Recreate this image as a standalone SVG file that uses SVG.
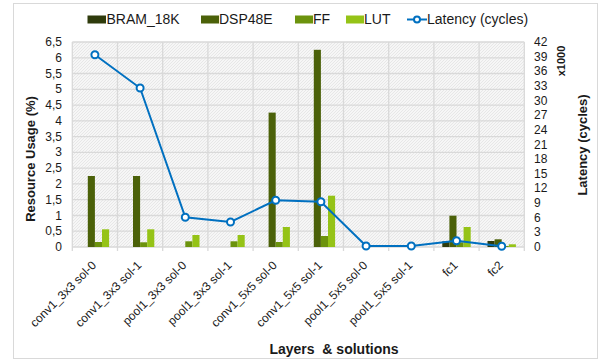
<svg xmlns="http://www.w3.org/2000/svg" width="602" height="364" viewBox="0 0 602 364">
<style>
text{font-family:"Liberation Sans",Arial,sans-serif;fill:#1a1a1a}
.leg{font-size:14px}
.ax{font-size:12px}
.axl{font-size:12px;text-anchor:end}
.cat{font-size:12px;text-anchor:end}
.ttl{font-size:13px;font-weight:bold;text-anchor:middle}
.grid{stroke:#d9d9d9;stroke-width:1.3;fill:none}
.bram{fill:#2f3b0c}
.dsp{fill:#4b6109}
.ff{fill:#6c930d}
.lut{fill:#95c317}
.lat{stroke:#0070c0;stroke-width:2;fill:none}
.mk{stroke:#0070c0;stroke-width:2;fill:#fff}
</style>
<defs>
<pattern id="hatch" width="3" height="3" patternUnits="userSpaceOnUse">
<rect width="3" height="3" fill="#f6f6f6"/>
<path d="M0,3 L3,0 M-1,1 L1,-1 M2,4 L4,2" stroke="#e1e1e1" stroke-width="0.7"/>
</pattern>
</defs>
<rect x="13.5" y="3.5" width="584" height="355" fill="#fff" stroke="#d9d9d9"/>
<g id="plot-area">
<rect x="72.3" y="42" width="452" height="205" fill="url(#hatch)"/>
</g>
<g id="gridlines">
<path class="grid" d="M72.3,247H524.3M72.3,231.2H524.3M72.3,215.5H524.3M72.3,199.7H524.3M72.3,183.9H524.3M72.3,168.2H524.3M72.3,152.4H524.3M72.3,136.6H524.3M72.3,120.8H524.3M72.3,105.1H524.3M72.3,89.3H524.3M72.3,73.5H524.3M72.3,57.8H524.3M72.3,42H524.3"/>
<path class="grid" d="M72.3,42V251M117.5,42V251M162.7,42V251M207.9,42V251M253.1,42V251M298.3,42V251M343.5,42V251M388.7,42V251M433.9,42V251M479.1,42V251M524.3,42V251"/>
</g>
<g id="bars">
<rect class="dsp" x="87.8" y="176" width="7.1" height="71"/>
<rect class="ff" x="94.9" y="242" width="7.1" height="5"/>
<rect class="lut" x="102" y="229.3" width="7.1" height="17.7"/>
<rect class="dsp" x="133" y="176" width="7.1" height="71"/>
<rect class="ff" x="140.1" y="242.3" width="7.1" height="4.7"/>
<rect class="lut" x="147.2" y="229.3" width="7.1" height="17.7"/>
<rect class="ff" x="185.3" y="241.3" width="7.1" height="5.7"/>
<rect class="lut" x="192.4" y="235" width="7.1" height="12"/>
<rect class="ff" x="230.5" y="241.3" width="7.1" height="5.7"/>
<rect class="lut" x="237.6" y="235" width="7.1" height="12"/>
<rect class="dsp" x="268.6" y="112.6" width="7.1" height="134.4"/>
<rect class="ff" x="275.7" y="242" width="7.1" height="5"/>
<rect class="lut" x="282.8" y="227" width="7.1" height="20"/>
<rect class="dsp" x="313.8" y="49.8" width="7.1" height="197.2"/>
<rect class="ff" x="320.9" y="236" width="7.1" height="11"/>
<rect class="lut" x="328" y="195.7" width="7.1" height="51.3"/>
<rect class="bram" x="442.3" y="241.3" width="7.1" height="5.7"/>
<rect class="dsp" x="449.4" y="215.7" width="7.1" height="31.3"/>
<rect class="ff" x="456.5" y="242.3" width="7.1" height="4.7"/>
<rect class="lut" x="463.6" y="227" width="7.1" height="20"/>
<rect class="bram" x="487.5" y="241" width="7.1" height="6"/>
<rect class="dsp" x="494.6" y="239.3" width="7.1" height="7.7"/>
<rect class="ff" x="501.7" y="246" width="7.1" height="1"/>
<rect class="lut" x="508.8" y="244.3" width="7.1" height="2.7"/>
</g>
<g id="latency">
<polyline class="lat" points="94.9,54.7 140.1,88 185.3,217.3 230.5,222 275.7,200.3 320.9,201.7 366.1,246 411.3,246 456.5,240.7 501.7,246.3"/>
<circle class="mk" cx="94.9" cy="54.7" r="3.5"/>
<circle class="mk" cx="140.1" cy="88" r="3.5"/>
<circle class="mk" cx="185.3" cy="217.3" r="3.5"/>
<circle class="mk" cx="230.5" cy="222" r="3.5"/>
<circle class="mk" cx="275.7" cy="200.3" r="3.5"/>
<circle class="mk" cx="320.9" cy="201.7" r="3.5"/>
<circle class="mk" cx="366.1" cy="246" r="3.5"/>
<circle class="mk" cx="411.3" cy="246" r="3.5"/>
<circle class="mk" cx="456.5" cy="240.7" r="3.5"/>
<circle class="mk" cx="501.7" cy="246.3" r="3.5"/>
</g>
<g id="left-axis">
<text class="axl" x="62" y="251">0</text>
<text class="axl" x="62" y="235.2">0,5</text>
<text class="axl" x="62" y="219.5">1</text>
<text class="axl" x="62" y="203.7">1,5</text>
<text class="axl" x="62" y="187.9">2</text>
<text class="axl" x="62" y="172.2">2,5</text>
<text class="axl" x="62" y="156.4">3</text>
<text class="axl" x="62" y="140.6">3,5</text>
<text class="axl" x="62" y="124.8">4</text>
<text class="axl" x="62" y="109.1">4,5</text>
<text class="axl" x="62" y="93.3">5</text>
<text class="axl" x="62" y="77.5">5,5</text>
<text class="axl" x="62" y="61.8">6</text>
<text class="axl" x="62" y="46">6,5</text>
<text class="ttl" transform="translate(35,159) rotate(-90)">Resource Usage (%)</text>
</g>
<g id="right-axis">
<text class="ax" x="534" y="251">0</text>
<text class="ax" x="534" y="236.4">3</text>
<text class="ax" x="534" y="221.7">6</text>
<text class="ax" x="534" y="207.1">9</text>
<text class="ax" x="534" y="192.4">12</text>
<text class="ax" x="534" y="177.8">15</text>
<text class="ax" x="534" y="163.1">18</text>
<text class="ax" x="534" y="148.5">21</text>
<text class="ax" x="534" y="133.9">24</text>
<text class="ax" x="534" y="119.2">27</text>
<text class="ax" x="534" y="104.6">30</text>
<text class="ax" x="534" y="89.9">33</text>
<text class="ax" x="534" y="75.3">36</text>
<text class="ax" x="534" y="60.6">39</text>
<text class="ax" x="534" y="46">42</text>
<text class="ttl" style="font-size:11px" transform="translate(565,61) rotate(-90)">x1000</text>
<text class="ttl" transform="translate(587,145) rotate(-90)">Latency (cycles)</text>
</g>
<g id="x-axis">
<text class="cat" transform="translate(96.9,266) rotate(-45)">conv1_3x3 sol-0</text>
<text class="cat" transform="translate(142.1,266) rotate(-45)">conv1_3x3 sol-1</text>
<text class="cat" transform="translate(187.3,266) rotate(-45)">pool1_3x3 sol-0</text>
<text class="cat" transform="translate(232.5,266) rotate(-45)">pool1_3x3 sol-1</text>
<text class="cat" transform="translate(277.7,266) rotate(-45)">conv1_5x5 sol-0</text>
<text class="cat" transform="translate(322.9,266) rotate(-45)">conv1_5x5 sol-1</text>
<text class="cat" transform="translate(368.1,266) rotate(-45)">pool1_5x5 sol-0</text>
<text class="cat" transform="translate(413.3,266) rotate(-45)">pool1_5x5 sol-1</text>
<text class="cat" transform="translate(458.5,266) rotate(-45)">fc1</text>
<text class="cat" transform="translate(503.7,266) rotate(-45)">fc2</text>
<text class="ttl" style="font-size:14px" x="334" y="354" xml:space="preserve">Layers  &amp; solutions</text>
</g>
<g id="legend">
<rect class="bram" x="87.5" y="15.5" width="18.5" height="8"/>
<text class="leg" x="106.5" y="24">BRAM_18K</text>
<rect class="dsp" x="201" y="15.5" width="18" height="8"/>
<text class="leg" x="219" y="24">DSP48E</text>
<rect class="ff" x="295" y="15.5" width="18" height="8"/>
<text class="leg" x="313" y="24">FF</text>
<rect class="lut" x="346" y="15.5" width="18" height="8"/>
<text class="leg" x="364" y="24">LUT</text>
<line class="lat" x1="407" y1="19.5" x2="427" y2="19.5"/>
<circle class="mk" cx="417" cy="19.5" r="3"/>
<text class="leg" x="427" y="24">Latency (cycles)</text>
</g>
</svg>
